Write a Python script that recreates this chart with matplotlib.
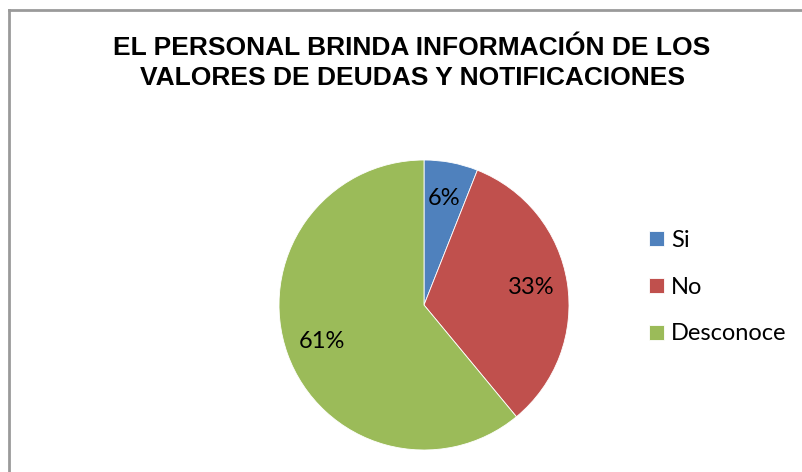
import matplotlib.pyplot as plt
from matplotlib.lines import Line2D

categories = ["Si", "No", "Desconoce"]
values = [6, 33, 61]
colors = ["#4f81bd", "#c0504d", "#9bbb59"]
title_lines = ["EL PERSONAL BRINDA INFORMACIÓN DE LOS", "VALORES DE DEUDAS Y NOTIFICACIONES"]

W, H = 803, 472
fig = plt.figure(figsize=(W / 100, H / 100), dpi=100)

# chart frame (only left and top edges fall inside the image)
fig.add_artist(Line2D([9.5 / W, 9.5 / W], [0, 1 - 9.5 / H], color="#9a9a9a", lw=2.0, transform=fig.transFigure))
fig.add_artist(Line2D([9.5 / W, 1], [1 - 9.5 / H, 1 - 9.5 / H], color="#9a9a9a", lw=2.0, transform=fig.transFigure))

# two-line bold title, baselines at 55 and 85 px from the top
for line, base in zip(title_lines, [55, 85]):
    fig.text(412 / W, 1 - base / H, line, ha="center", va="baseline", fontsize=19,
             fontweight="bold", family="Liberation Sans")

# pie centred at (424, 305) px with radius 145 px
cx, cy, r = 424, 305, 145
ax = fig.add_axes([(cx - r) / W, (H - cy - r) / H, 2 * r / W, 2 * r / H])
wedges, texts, autotexts = ax.pie(values, colors=colors, startangle=90, counterclock=False,
                                  autopct="%d%%", pctdistance=0.75,
                                  wedgeprops=dict(linewidth=0.6, edgecolor="white"),
                                  textprops=dict(fontsize=17, family="Lato", color="black"))
ax.set_xlim(-1, 1)
ax.set_ylim(-1, 1)

fig.legend(wedges, categories, loc="center left", bbox_to_anchor=(628 / W, 1 - 287 / H),
           frameon=False, prop=dict(family="Lato", size=17),
           handlelength=0.63, handleheight=0.6, handletextpad=0.3, labelspacing=1.1)

fig.savefig("out.png", dpi=100)
